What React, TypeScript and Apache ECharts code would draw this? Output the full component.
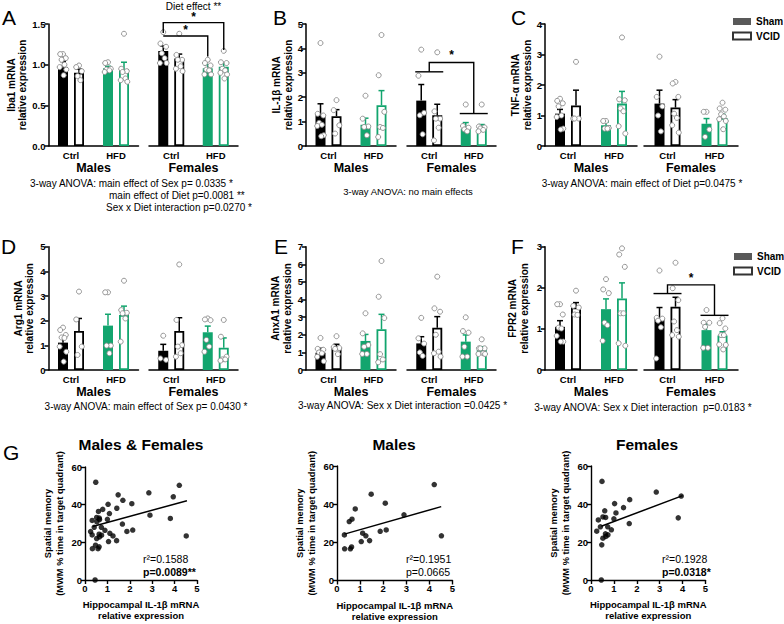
import React, { useEffect, useRef } from 'react';
import * as echarts from 'echarts';

// ---------------- data ----------------
const diets = ['Ctrl', 'HFD'];
const sexes = ['Males', 'Females'];
// group order in every bar panel:
// M-Ctrl-Sham, M-Ctrl-VCID, M-HFD-Sham, M-HFD-VCID, F-Ctrl-Sham, F-Ctrl-VCID, F-HFD-Sham, F-HFD-VCID

const iba1Mean = [0.97, 0.9, 0.955, 0.945, 1.167, 1.077, 0.955, 0.974];
const iba1Sem = [0.07, 0.045, 0.025, 0.085, 0.063, 0.053, 0.045, 0.041];
const iba1Points = [
  [1.13, 1.13, 1.08, 1.06, 1.0, 0.97, 0.94, 0.87],
  [0.99, 0.97, 0.92, 0.86, 0.81],
  [1.03, 1.02, 0.95, 0.94, 0.93, 0.91],
  [1.38, 0.95, 0.92, 0.91, 0.83, 0.81, 0.79],
  [1.4, 1.26, 1.22, 1.14, 1.08, 1.02, 1.02],
  [1.38, 1.12, 1.06, 1.06, 0.98, 0.95, 0.92],
  [1.06, 1.02, 0.99, 0.94, 0.93, 0.88, 0.88],
  [1.17, 1.03, 1.02, 0.95, 0.93, 0.9, 0.88, 0.83],
];

const il1bMean = [1.29, 1.22, 0.87, 1.67, 1.86, 1.26, 0.71, 0.7];
const il1bSem = [0.44, 0.27, 0.27, 0.6, 0.66, 0.45, 0.25, 0.18];
const il1bPoints = [
  [4.22, 1.32, 1.25, 0.95, 0.87, 0.82, 0.44, 0.4],
  [1.88, 1.47, 0.85, 0.51],
  [2.06, 1.12, 0.8, 0.78, 0.44],
  [4.55, 2.9, 1.4, 0.78, 0.74, 0.37],
  [3.95, 2.88, 1.36, 1.26, 0.48],
  [3.84, 1.42, 1.12, 1.12, 0.75, 0.23],
  [1.7, 0.82, 0.75, 0.68, 0.6],
  [1.7, 0.8, 0.76, 0.72, 0.66, 0.6],
];

const tnfMean = [1.06, 1.33, 0.68, 1.39, 1.39, 1.26, 0.73, 0.92];
const tnfSem = [0.14, 0.5, 0.11, 0.4, 0.44, 0.26, 0.17, 0.12];
const tnfPoints = [
  [1.55, 1.48, 1.4, 1.3, 1.0, 0.95, 0.57, 0.54],
  [2.76, 0.9, 0.9, 0.9],
  [0.82, 0.82, 0.59, 0.57, 0.57],
  [3.56, 1.53, 1.5, 1.23, 1.14, 0.65, 0.41],
  [2.93, 1.61, 1.3, 1.0, 0.48],
  [2.1, 2.05, 1.61, 1.06, 0.92, 0.68, 0.44],
  [1.12, 1.12, 0.54, 0.3],
  [1.42, 1.23, 1.19, 1.04, 0.97, 0.88, 0.82, 0.55],
];

const arg1Mean = [1.11, 1.58, 1.8, 2.23, 0.78, 1.58, 1.53, 0.9];
const arg1Sem = [0.24, 0.51, 0.46, 0.36, 0.26, 0.54, 0.25, 0.4];
const arg1Points = [
  [1.72, 1.62, 1.42, 1.32, 1.3, 0.95, 0.74, 0.34],
  [3.18, 2.05, 0.95, 0.61],
  [3.15, 3.15, 0.99, 0.99, 0.68],
  [3.62, 2.43, 2.32, 2.3, 2.09, 1.15],
  [1.39, 0.47, 0.41],
  [4.28, 2.03, 1.01, 0.95, 0.68, 0.54],
  [2.09, 2.05, 2.02, 1.22, 0.95, 0.74],
  [2.03, 1.35, 0.54, 0.43, 0.43, 0.38],
];

const anxa1Mean = [0.98, 1.23, 1.65, 2.31, 1.51, 2.4, 1.61, 1.14];
const anxa1Sem = [0.25, 0.23, 0.37, 0.85, 0.38, 0.63, 0.38, 0.18];
const anxa1Points = [
  [1.82, 1.2, 1.15, 1.0, 0.95, 0.75, 0.5],
  [1.92, 1.3, 1.25, 1.2, 0.9],
  [3.22, 2.08, 1.42, 1.32, 0.91, 0.91],
  [6.19, 4.16, 2.95, 0.9, 0.6, 0.44],
  [2.96, 1.8, 1.5, 1.0, 0.8],
  [5.3, 3.5, 3.31, 2.0, 1.04, 0.95, 0.76],
  [2.99, 2.21, 2.12, 1.32, 0.76, 0.76],
  [1.74, 1.23, 1.23, 1.23, 0.95, 0.91, 0.91],
];

const fpr2Mean = [1.05, 1.52, 1.48, 1.74, 1.26, 1.54, 0.97, 0.84];
const fpr2Sem = [0.15, 0.12, 0.25, 0.38, 0.26, 0.23, 0.15, 0.09];
const fpr2Points = [
  [1.6, 1.6, 1.35, 1.03, 1.01, 0.83, 0.69, 0.69],
  [1.93, 1.56, 1.52, 1.35, 1.34],
  [2.21, 1.96, 1.87, 1.15, 1.09, 0.71],
  [2.96, 2.81, 2.51, 1.38, 1.38, 0.65, 0.59],
  [2.42, 1.27, 1.25, 1.2, 1.04, 0.28],
  [2.61, 1.99, 1.7, 1.18, 0.97, 0.85, 0.81],
  [1.46, 1.15, 1.15, 1.05, 0.54, 0.54],
  [1.26, 1.14, 1.01, 0.85, 0.85, 0.62, 0.61, 0.5],
];

// significance brackets (female groups): anchors are [dietIndex, barSide, value]
const iba1BracketLines = [
  [[0, -1, 1.39], [0, -1, 1.517], [1, 1, 1.517], [1, 1, 1.18]],
  [[0, -1, 1.353], [1, -1, 1.353], [1, -1, 1.1]],
];
const iba1BracketLabels = [
  { from: [0, -1], to: [1, 1], value: 1.585, text: '*', bold: true },
  { from: [0, -1], to: [1, -1], value: 1.43, text: '*', bold: true },
  { from: [0, 0], to: [1, 0], value: 1.72, text: 'Diet effect **', bold: false },
];
const il1bBracketLines = [
  [[0, -1.75, 3.04], [0, 1.75, 3.04]],
  [[0, 0, 3.04], [0, 0, 3.42], [1, 0, 3.42], [1, 0, 1.33]],
  [[1, -1.75, 1.33], [1, 1.75, 1.33]],
];
const il1bBracketLabels = [{ from: [0, 0], to: [1, 0], value: 3.75, text: '*', bold: true }];
const fpr2BracketLines = [
  [[0, -1.75, 1.86], [0, 1.75, 1.86]],
  [[0, 0, 1.86], [0, 0, 2.07], [1, 0, 2.07], [1, 0, 1.33]],
  [[1, -1.75, 1.33], [1, 1.75, 1.33]],
];
const fpr2BracketLabels = [{ from: [0, 0], to: [1, 0], value: 2.23, text: '*', bold: true }];

// correlation panels: [IL-1β expression, MWM % time]
const malesCorr = [
  [4.21, 50.3], [1.48, 45.2], [2.09, 40.5], [0.79, 37.5], [0.65, 32.1], [0.53, 30.9],
  [2.9, 34.4], [0.32, 23.9], [1.11, 24.8], [1.25, 23.4], [1.87, 25.8], [2.13, 26.5],
  [1.05, 20.4], [1.41, 20.9], [4.52, 23.4], [0.33, 16.6], [0.58, 16.6], [0.63, 17.6],
];
const femalesCorr = [
  [0.48, 51.9], [2.85, 46.3], [3.94, 44.2], [1.69, 42.3], [1.03, 40.2], [1.42, 38.1],
  [0.6, 36.4], [1.09, 35.3], [0.52, 33.2], [0.32, 31.6], [0.64, 32.9], [1.0, 32.2],
  [3.81, 32.7], [1.67, 29.7], [0.41, 28.0], [0.73, 28.0], [0.89, 26.4], [0.25, 25.7],
  [0.63, 24.3], [0.74, 23.8], [0.52, 22.0], [0.65, 22.9], [0.47, 18.5], [0.45, 0],
];
const allFit = [[0.34, 28.4], [4.55, 42.1]];
const malesFit = [[0.32, 24.3], [4.51, 38.7]];
const femalesFit = [[0.45, 28.3], [4.0, 44.4]];

// ---------------- styling / layout ----------------
const FONT = '"Liberation Sans", Arial, Helvetica, sans-serif';
const GREEN = '#12a56e';
const BLACK = '#000000';
const BAR_W = 10;
const OFFSET = 8;
const CAP = 3;
const JIT = [0, -2.8, 2.8, -1.4, 1.4, -3.3, 3.3, 0.7, -0.7];

const COLS = [
  { mLeft: 48.5, mWidth: 90, fLeft: 149, fWidth: 89 },
  { mLeft: 306, mWidth: 90, fLeft: 407, fWidth: 89 },
  { mLeft: 545, mWidth: 92, fLeft: 644, fWidth: 94 },
];
const ROWS = [
  { top: 24, height: 122 },
  { top: 246.7, height: 123.3 },
];

const barPanels = [
  { name: 'Iba1 mRNA\nrelative expression', max: 1.5, interval: 0.5, dec: 1, mean: iba1Mean, sem: iba1Sem, pts: iba1Points, col: 0, row: 0, nameGap: 18, lines: iba1BracketLines, labels: iba1BracketLabels },
  { name: 'IL-1β mRNA\nrelative expression', max: 5, interval: 1, dec: 0, mean: il1bMean, sem: il1bSem, pts: il1bPoints, col: 1, row: 0, nameGap: 11, lines: il1bBracketLines, labels: il1bBracketLabels },
  { name: 'TNF-α mRNA\nrelative expression', max: 4, interval: 1, dec: 0, mean: tnfMean, sem: tnfSem, pts: tnfPoints, col: 2, row: 0, nameGap: 11, lines: null, labels: null },
  { name: 'Arg1 mRNA\nrelative expression', max: 5, interval: 1, dec: 0, mean: arg1Mean, sem: arg1Sem, pts: arg1Points, col: 0, row: 1, nameGap: 13, lines: null, labels: null },
  { name: 'AnxA1 mRNA\nrelative expression', max: 7, interval: 1, dec: 0, mean: anxa1Mean, sem: anxa1Sem, pts: anxa1Points, col: 1, row: 1, nameGap: 13, lines: null, labels: null },
  { name: 'FPR2 mRNA\nrelative expression', max: 3, interval: 1, dec: 0, mean: fpr2Mean, sem: fpr2Sem, pts: fpr2Points, col: 2, row: 1, nameGap: 15, lines: fpr2BracketLines, labels: fpr2BracketLabels },
];

const corrPanels = [
  { title: 'Males & Females', pts: malesCorr.concat(femalesCorr), fit: allFit, r2: 'r²=0.1588', p: 'p=0.0089**', pBold: true, left: 85, top: 467, width: 112, height: 113, tx: 141, tr: 143 },
  { title: 'Males', pts: malesCorr, fit: malesFit, r2: 'r²=0.1951', p: 'p=0.0665', pBold: false, left: 337, top: 466, width: 115.5, height: 114.5, tx: 394, tr: 406 },
  { title: 'Females', pts: femalesCorr, fit: femalesFit, r2: 'r²=0.1928', p: 'p=0.0318*', pBold: true, left: 591, top: 466, width: 114.5, height: 114, tx: 647, tr: 662 },
];

function txt(text: string, x: number, y: number, size: number, opts: any = {}) {
  return {
    type: 'text',
    x,
    y,
    silent: true,
    style: {
      text,
      fill: '#000',
      fontSize: size,
      fontFamily: FONT,
      fontWeight: opts.bold ? 'bold' : 'normal',
      align: opts.align || 'left',
      textAlign: opts.align || 'left',
      verticalAlign: 'middle',
      textVerticalAlign: 'middle',
    },
  };
}

function buildOption() {
  const grids: any[] = [];
  const xAxes: any[] = [];
  const yAxes: any[] = [];
  const series: any[] = [];

  barPanels.forEach((p) => {
    const c = COLS[p.col];
    const r = ROWS[p.row];
    [0, 1].forEach((sex) => {
      const gi = grids.length;
      grids.push({
        left: sex ? c.fLeft : c.mLeft,
        width: sex ? c.fWidth : c.mWidth,
        top: r.top,
        height: r.height,
        containLabel: false,
        outerBoundsMode: 'none',
      });
      xAxes.push({
        gridIndex: gi,
        type: 'category',
        data: diets,
        axisLine: { show: true, lineStyle: { color: BLACK, width: 1.5 } },
        axisTick: { show: false },
        axisLabel: { color: BLACK, fontWeight: 'bold', fontSize: 9.5, fontFamily: FONT, margin: 4 },
        name: sexes[sex],
        nameLocation: 'middle',
        nameGap: 15.5,
        nameTextStyle: { color: BLACK, fontWeight: 'bold', fontSize: 12.5, fontFamily: FONT },
      });
      if (sex === 0) {
        yAxes.push({
          gridIndex: gi,
          type: 'value',
          min: 0,
          max: p.max,
          interval: p.interval,
          axisLine: { show: true, lineStyle: { color: BLACK, width: 1.5 } },
          axisTick: { show: true, length: 4, lineStyle: { color: BLACK, width: 1.5 } },
          axisLabel: {
            color: BLACK, fontWeight: 'bold', fontSize: 9.5, fontFamily: FONT, margin: 3,
            formatter: (v: number) => v.toFixed(p.dec),
          },
          splitLine: { show: false },
          name: p.name,
          nameLocation: 'middle',
          nameGap: p.nameGap,
          nameTextStyle: { color: BLACK, fontWeight: 'bold', fontSize: 10, fontFamily: FONT, lineHeight: 11.5 },
        });
      } else {
        yAxes.push({ gridIndex: gi, type: 'value', min: 0, max: p.max, interval: p.interval, show: false, splitLine: { show: false } });
      }
      const base = sex * 4;
      series.push({
        type: 'bar',
        name: 'Sham',
        xAxisIndex: gi,
        yAxisIndex: gi,
        barWidth: BAR_W,
        barGap: '60%',
        silent: true,
        z: 2,
        itemStyle: { color: '#595959' },
        data: [0, 1].map((d) => ({ value: p.mean[base + d * 2], itemStyle: { color: d ? GREEN : BLACK } })),
      });
      series.push({
        type: 'bar',
        name: 'VCID',
        xAxisIndex: gi,
        yAxisIndex: gi,
        barWidth: BAR_W,
        barGap: '60%',
        silent: true,
        z: 2,
        itemStyle: { color: '#ffffff', borderColor: '#333333', borderWidth: 1.5 },
        data: [0, 1].map((d) => ({
          value: p.mean[base + d * 2 + 1],
          itemStyle: { color: '#ffffff', borderColor: d ? GREEN : BLACK, borderWidth: 1.8 },
        })),
      });
      // error bars (mean + SEM)
      series.push({
        type: 'custom',
        xAxisIndex: gi,
        yAxisIndex: gi,
        silent: true,
        z: 3,
        encode: { x: 0, y: 2 },
        data: [0, 1, 2, 3].map((k) => [Math.floor(k / 2), k % 2, p.mean[base + k], p.sem[base + k]]),
        renderItem: (params: any, api: any) => {
          const cat = api.value(0);
          const tr = api.value(1);
          const m = api.value(2);
          const s = api.value(3);
          const top = api.coord([cat, m + s]);
          const bot = api.coord([cat, m]);
          const x = top[0] + (tr ? 1 : -1) * OFFSET;
          const color = cat ? GREEN : BLACK;
          return {
            type: 'group',
            children: [
              { type: 'line', shape: { x1: x, y1: bot[1], x2: x, y2: top[1] }, style: { stroke: color, lineWidth: 1.5 } },
              { type: 'line', shape: { x1: x - CAP, y1: top[1], x2: x + CAP, y2: top[1] }, style: { stroke: color, lineWidth: 1.5 } },
            ],
          };
        },
      });
      // individual animals
      const ptsData: any[] = [];
      [0, 1, 2, 3].forEach((k) => {
        p.pts[base + k].forEach((v: number, j: number) => ptsData.push([Math.floor(k / 2), k % 2, v, j]));
      });
      series.push({
        type: 'custom',
        xAxisIndex: gi,
        yAxisIndex: gi,
        silent: true,
        z: 4,
        encode: { x: 0, y: 2 },
        data: ptsData,
        renderItem: (params: any, api: any) => {
          const cat = api.value(0);
          const tr = api.value(1);
          const v = api.value(2);
          const j = api.value(3);
          const pt = api.coord([cat, v]);
          const x = pt[0] + (tr ? 1 : -1) * OFFSET + JIT[j % JIT.length];
          return {
            type: 'circle',
            shape: { cx: x, cy: pt[1], r: 2.5 },
            style: { fill: '#ffffff', stroke: '#8a8a8a', lineWidth: 0.9 },
          };
        },
      });
      if (sex === 1 && p.lines) {
        const lines = p.lines;
        const labels = p.labels || [];
        series.push({
          type: 'custom',
          xAxisIndex: gi,
          yAxisIndex: gi,
          silent: true,
          clip: false,
          z: 5,
          encode: { x: 0, y: 1 },
          data: [[0, 0]],
          renderItem: (params: any, api: any) => {
            const px = (a: number[]) => {
              const c2 = api.coord([a[0], a[2]]);
              return [c2[0] + a[1] * OFFSET, c2[1]];
            };
            const children: any[] = [];
            lines.forEach((seg: number[][]) => {
              children.push({
                type: 'polyline',
                shape: { points: seg.map((a) => px(a)) },
                style: { stroke: BLACK, lineWidth: 1.4, fill: null },
              });
            });
            labels.forEach((l: any) => {
              const a = px([l.from[0], l.from[1], l.value]);
              const b = px([l.to[0], l.to[1], l.value]);
              children.push({
                type: 'text',
                x: (a[0] + b[0]) / 2,
                y: a[1],
                style: {
                  text: l.text,
                  fill: BLACK,
                  fontFamily: FONT,
                  fontSize: l.bold ? 12 : 10,
                  fontWeight: l.bold ? 'bold' : 'normal',
                  align: 'center',
                  textAlign: 'center',
                  verticalAlign: 'middle',
                  textVerticalAlign: 'middle',
                },
              });
            });
            return { type: 'group', children };
          },
        });
      }
    });
  });

  corrPanels.forEach((c) => {
    const gi = grids.length;
    grids.push({ left: c.left, top: c.top, width: c.width, height: c.height, containLabel: false, outerBoundsMode: 'none' });
    xAxes.push({
      gridIndex: gi,
      type: 'value',
      min: 0,
      max: 5,
      interval: 1,
      axisLine: { show: true, onZero: false, lineStyle: { color: BLACK, width: 1.4 } },
      axisTick: { show: true, length: 4, lineStyle: { color: BLACK, width: 1.4 } },
      axisLabel: { color: BLACK, fontWeight: 'bold', fontSize: 9.5, fontFamily: FONT, margin: 3 },
      splitLine: { show: false },
      name: 'Hippocampal IL-1β mRNA\nrelative expression',
      nameLocation: 'middle',
      nameGap: 19,
      nameTextStyle: { color: BLACK, fontWeight: 'bold', fontSize: 9.5, fontFamily: FONT, lineHeight: 11 },
    });
    yAxes.push({
      gridIndex: gi,
      type: 'value',
      min: 0,
      max: 60,
      interval: 20,
      axisLine: { show: true, onZero: false, lineStyle: { color: BLACK, width: 1.4 } },
      axisTick: { show: true, length: 4, lineStyle: { color: BLACK, width: 1.4 } },
      axisLabel: { color: BLACK, fontWeight: 'bold', fontSize: 9.5, fontFamily: FONT, margin: 3 },
      splitLine: { show: false },
      name: 'Spatial memory\n(MWM % time in target quadrant)',
      nameLocation: 'middle',
      nameGap: 19,
      nameTextStyle: { color: BLACK, fontWeight: 'bold', fontSize: 9.3, fontFamily: FONT, lineHeight: 12 },
    });
    series.push({
      type: 'scatter',
      xAxisIndex: gi,
      yAxisIndex: gi,
      silent: true,
      symbol: 'circle',
      symbolSize: 5.5,
      itemStyle: { color: BLACK },
      data: c.pts,
      z: 3,
    });
    series.push({
      type: 'line',
      xAxisIndex: gi,
      yAxisIndex: gi,
      silent: true,
      symbol: 'none',
      lineStyle: { color: BLACK, width: 1.5 },
      data: c.fit,
      z: 2,
    });
  });

  const graphics: any[] = [
    txt('A', 2, 17.5, 21),
    txt('B', 273, 17.5, 21),
    txt('C', 511, 17.5, 21),
    txt('D', 1, 246.5, 21),
    txt('E', 274, 246, 21),
    txt('F', 511, 246, 21),
    txt('G', 3, 452.5, 21),
    txt('3-way ANOVA: main effect of Sex p= 0.0335 *', 30, 183, 10),
    txt('main effect of Diet p=0.0081 **', 109, 195, 10),
    txt('Sex x Diet interaction p=0.0270 *', 106, 207, 10),
    txt('3-way ANOVA: no main effects', 408, 191, 9.5, { align: 'center' }),
    txt('3-way ANOVA: main effect of Diet p=0.0475 *', 642, 183, 10, { align: 'center' }),
    txt('3-way ANOVA: main effect of Sex p= 0.0430 *', 146, 406.5, 10, { align: 'center' }),
    txt('3-way ANOVA: Sex x Diet interaction =0.0425 *', 402.5, 405.5, 10, { align: 'center' }),
    txt('3-way ANOVA: Sex x Diet interaction  p=0.0183 *', 643, 407, 10, { align: 'center' }),
  ];
  corrPanels.forEach((c) => {
    graphics.push(txt(c.title, c.tx, 444.5, 15.5, { bold: true, align: 'center' }));
    graphics.push(txt(c.r2, c.tr, 559, 10.5));
    graphics.push(txt(c.p, c.tr, 571.5, 10.5, { bold: c.pBold }));
  });

  const legendBase = {
    orient: 'vertical',
    data: ['Sham', 'VCID'],
    icon: 'rect',
    itemWidth: 18,
    itemHeight: 7,
    itemGap: 3.5,
    selectedMode: false,
    textStyle: { color: BLACK, fontWeight: 'bold', fontSize: 10, fontFamily: FONT, lineHeight: 11 },
    padding: 0,
  };

  return {
    animation: false,
    backgroundColor: '#ffffff',
    textStyle: { fontFamily: FONT },
    grid: grids,
    xAxis: xAxes,
    yAxis: yAxes,
    series,
    legend: [
      { ...legendBase, left: 732, top: 16 },
      { ...legendBase, left: 733, top: 251 },
    ],
    graphic: graphics,
  };
}

export default function App() {
  const ref = useRef<HTMLDivElement>(null);
  useEffect(() => {
    const chart = echarts.init(ref.current as HTMLDivElement, null, { renderer: 'svg' });
    chart.setOption(buildOption() as any);
    return () => chart.dispose();
  }, []);
  return (
    <div
      ref={ref}
      style={{ position: 'absolute', left: 0, top: 0, width: 784, height: 624, background: '#ffffff' }}
    />
  );
}
